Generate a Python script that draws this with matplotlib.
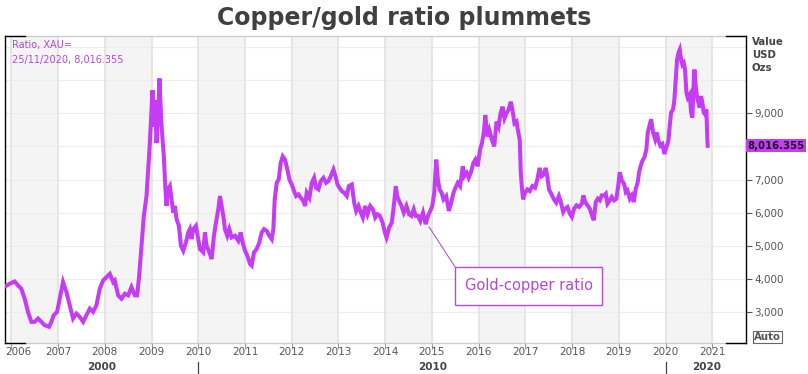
import matplotlib
matplotlib.use("Agg")
import matplotlib.pyplot as plt
from matplotlib.patches import Rectangle
from matplotlib.lines import Line2D

# ---- data (decimal year, ratio value) ----
years = [
 2005.879, 2005.964, 2006.071, 2006.143, 2006.214, 2006.286, 2006.357, 2006.429, 2006.5, 2006.571,
 2006.643, 2006.714, 2006.807, 2006.857, 2006.907, 2006.979, 2007.036, 2007.107, 2007.179, 2007.25,
 2007.321, 2007.393, 2007.464, 2007.536, 2007.607, 2007.679, 2007.75, 2007.821, 2007.893, 2007.964,
 2008.036, 2008.107, 2008.179, 2008.214, 2008.286, 2008.357, 2008.429, 2008.5, 2008.571, 2008.643,
 2008.693, 2008.736, 2008.786, 2008.836, 2008.893, 2008.929, 2008.964, 2009.0, 2009.021, 2009.05,
 2009.079, 2009.107, 2009.15, 2009.171, 2009.207, 2009.236, 2009.264, 2009.293, 2009.321, 2009.35,
 2009.393, 2009.429, 2009.464, 2009.5, 2009.536, 2009.586, 2009.629, 2009.679, 2009.736, 2009.786,
 2009.821, 2009.857, 2009.893, 2009.95, 2010.0, 2010.036, 2010.107, 2010.143, 2010.179, 2010.236,
 2010.286, 2010.336, 2010.379, 2010.429, 2010.464, 2010.5, 2010.536, 2010.571, 2010.621, 2010.664,
 2010.714, 2010.786, 2010.857, 2010.907, 2010.95, 2011.0, 2011.05, 2011.107, 2011.143, 2011.193,
 2011.25, 2011.307, 2011.357, 2011.407, 2011.464, 2011.521, 2011.571, 2011.607, 2011.636, 2011.679,
 2011.721, 2011.764, 2011.807, 2011.857, 2011.907, 2011.95, 2012.0, 2012.05, 2012.093, 2012.143,
 2012.193, 2012.25, 2012.286, 2012.321, 2012.379, 2012.429, 2012.479, 2012.521, 2012.571, 2012.621,
 2012.679, 2012.736, 2012.786, 2012.836, 2012.893, 2012.936, 2012.979, 2013.021, 2013.071, 2013.121,
 2013.179, 2013.221, 2013.286, 2013.336, 2013.379, 2013.429, 2013.479, 2013.521, 2013.571, 2013.621,
 2013.679, 2013.736, 2013.786, 2013.836, 2013.887, 2013.943, 2013.993, 2014.028, 2014.085, 2014.142,
 2014.184, 2014.227, 2014.255, 2014.298, 2014.348, 2014.397, 2014.454, 2014.511, 2014.56, 2014.61,
 2014.652, 2014.702, 2014.752, 2014.809, 2014.865, 2014.915, 2014.965, 2015.007, 2015.05, 2015.092,
 2015.128, 2015.163, 2015.206, 2015.248, 2015.305, 2015.362, 2015.411, 2015.461, 2015.504, 2015.553,
 2015.603, 2015.66, 2015.695, 2015.745, 2015.787, 2015.83, 2015.887, 2015.929, 2015.979, 2016.028,
 2016.071, 2016.113, 2016.142, 2016.184, 2016.227, 2016.284, 2016.333, 2016.383, 2016.426, 2016.468,
 2016.511, 2016.553, 2016.596, 2016.638, 2016.688, 2016.723, 2016.766, 2016.809, 2016.851, 2016.879,
 2016.901, 2016.922, 2016.95, 2016.993, 2017.043, 2017.092, 2017.149, 2017.206, 2017.255, 2017.305,
 2017.348, 2017.397, 2017.433, 2017.468, 2017.504, 2017.56, 2017.61, 2017.66, 2017.716, 2017.758,
 2017.808, 2017.85, 2017.9, 2017.95, 2017.993, 2018.043, 2018.093, 2018.15, 2018.207, 2018.242,
 2018.278, 2018.328, 2018.378, 2018.435, 2018.463, 2018.506, 2018.549, 2018.592, 2018.634, 2018.684,
 2018.72, 2018.756, 2018.805, 2018.848, 2018.898, 2018.948, 2018.991, 2019.019, 2019.062, 2019.112,
 2019.148, 2019.183, 2019.233, 2019.276, 2019.319, 2019.361, 2019.404, 2019.433, 2019.468, 2019.504,
 2019.547, 2019.589, 2019.618, 2019.661, 2019.689, 2019.732, 2019.775, 2019.81, 2019.846, 2019.889,
 2019.932, 2019.974, 2020.017, 2020.06, 2020.088, 2020.117, 2020.16, 2020.188, 2020.217, 2020.245,
 2020.274, 2020.302, 2020.331, 2020.359, 2020.388, 2020.416, 2020.445, 2020.473, 2020.516, 2020.545,
 2020.573, 2020.594, 2020.616, 2020.644, 2020.673, 2020.701, 2020.73, 2020.758, 2020.787, 2020.815,
 2020.844, 2020.872, 2020.88, 2020.89, 2020.9,
]
ratio = [
 3780, 3850, 3920, 3800, 3700, 3400, 3000, 2700, 2700, 2800,
 2700, 2600, 2550, 2700, 2900, 3000, 3400, 3900, 3600, 3200,
 2800, 2950, 2850, 2700, 2900, 3100, 3000, 3200, 3700, 3950,
 4050, 4150, 3900, 3950, 3500, 3400, 3550, 3500, 3750, 3500,
 3500, 4100, 5000, 5900, 6500, 7300, 8100, 9100, 9700, 8600,
 9400, 8100, 9200, 10050, 8800, 8200, 7700, 6800, 6200, 6700,
 6800, 6400, 6000, 6200, 5800, 5600, 5000, 4850, 5100, 5400,
 5500, 5200, 5500, 5600, 5200, 4900, 4800, 5400, 5000, 4800,
 4600, 5300, 5700, 6100, 6500, 6200, 5900, 5500, 5300, 5500,
 5250, 5300, 5150, 5400, 5100, 4850, 4700, 4450, 4400, 4800,
 4900, 5100, 5400, 5500, 5450, 5300, 5200, 5500, 6400, 6900,
 7000, 7500, 7700, 7600, 7300, 7000, 6850, 6650, 6500, 6550,
 6450, 6350, 6200, 6600, 6450, 6900, 7050, 6750, 6700, 6950,
 7050, 6900, 6950, 7100, 7300, 7100, 6850, 6750, 6650, 6600,
 6500, 6800, 6850, 6300, 6050, 6200, 6000, 5850, 6200, 5950,
 6200, 6100, 5850, 5950, 5900, 5700, 5400, 5250, 5550, 5700,
 6200, 6800, 6500, 6350, 6200, 6000, 6200, 5950, 5900, 6100,
 5900, 5900, 5750, 6000, 5650, 5900, 6050, 6200, 6600, 7600,
 7000, 6700, 6600, 6400, 6500, 6050, 6300, 6600, 6750, 6900,
 6800, 7400, 7100, 7200, 7050, 7200, 7500, 7600, 7400, 7900,
 8100, 8450, 8950, 8300, 8500, 8200, 8000, 8750, 8600, 9000,
 9200, 8850, 9000, 9100, 9350, 9100, 8700, 8750, 8400, 8200,
 7200, 6800, 6400, 6600, 6700, 6650, 6800, 6750, 7000, 7350,
 7100, 7150, 7350, 7100, 6700, 6550, 6400, 6300, 6500, 6320,
 6020, 6120, 6170, 5970, 5870, 6120, 6220, 6170, 6270, 6520,
 6320, 6220, 6120, 5870, 5770, 6320, 6420, 6370, 6520, 6520,
 6570, 6270, 6370, 6470, 6370, 6420, 6870, 7220, 6970, 6870,
 6620, 6670, 6420, 6520, 6320, 6720, 6920, 7220, 7420, 7570,
 7670, 7920, 8420, 8670, 8820, 8420, 8220, 8420, 8170, 8020,
 8070, 7770, 7970, 8170, 8620, 9020, 9120, 9420, 10020, 10620,
 10820, 10920, 10620, 10470, 10520, 10320, 9620, 9470, 9570, 9020,
 8870, 9720, 10320, 9820, 9470, 9320, 9170, 9520, 9320, 9020,
 8970, 9120, 8720, 8320, 8016.355,
]
year_ticks = list(range(2006, 2022))
value_ticks = [3000, 4000, 5000, 6000, 7000, 9000]
grid_values = list(range(3000, 12000, 1000))
decade_labels = ["2000", "2010", "2020"]
last_value = 8016.355
last_date = "25/11/2020"

PURPLE = "#c63cf5"
TXT_PURPLE = "#b546dc"
GREY = "#555555"

W, H = 808, 374
fig = plt.figure(figsize=(W / 100, H / 100), dpi=100)
L, R, T, B = 5, 746, 36, 343
ax = fig.add_axes([L / W, 1 - B / H, (R - L) / W, (B - T) / H])
ax.set_xlim(2005.865, 2021.72)
ax.set_ylim(2061, 11335)

# alternate year shading and year lines
for y in year_ticks[:-1]:
    if y % 2 == 0:
        ax.axvspan(y, y + 1, color="#f4f4f4", lw=0, zorder=0)
for y in year_ticks:
    ax.axvline(y, color="#e4e4e4", lw=1.3, zorder=0.5)
for v in grid_values:
    ax.axhline(v, color="#ececec", lw=0.8, zorder=0.4)

ax.plot(years, ratio, color=PURPLE, lw=2.9, solid_joinstyle="miter", zorder=3)

# spines
for s in ["left", "right"]:
    ax.spines[s].set_color("black")
    ax.spines[s].set_linewidth(1.0)
for s in ["top", "bottom"]:
    ax.spines[s].set_color("#cccccc")
    ax.spines[s].set_linewidth(1.0)
for (x0, x1) in [(0, 0.027), (0.973, 1.0)]:
    ax.add_line(Line2D([x0, x1], [0, 0], transform=ax.transAxes, color="black", lw=1.0, clip_on=False, zorder=5))
    ax.add_line(Line2D([x0, x1], [1, 1], transform=ax.transAxes, color="black", lw=1.0, clip_on=False, zorder=5))

# y axis on right
ax.yaxis.tick_right()
ax.set_yticks(value_ticks)
ax.set_yticklabels([f"{v:,}" for v in value_ticks])
ax.tick_params(axis="y", which="both", length=4, width=0.8, color=GREY, labelcolor=GREY,
               labelsize=7.5, pad=2, left=False)
ax.tick_params(axis="x", length=4, width=0.8, color="#999999", labelbottom=False)
ax.set_xticks(year_ticks)

# year labels
for y in year_ticks:
    if y == 2006:
        ax.text(2005.865, -0.028, str(y), transform=ax.get_xaxis_transform(), ha="left", va="center",
                fontsize=7.5, color=GREY)
    else:
        ax.text(y, -0.028, str(y), transform=ax.get_xaxis_transform(), ha="center", va="center",
                fontsize=7.5, color=GREY)
for lab, xpos in zip(decade_labels, [2007.94, 2015.02, 2020.88]):
    ax.text(xpos, -0.078, lab, transform=ax.get_xaxis_transform(), ha="center", va="center",
            fontsize=7.5, color="#444444", fontweight="bold")
for xsep in [2010, 2020]:
    ax.add_line(Line2D([xsep, xsep], [-0.062, -0.1], transform=ax.get_xaxis_transform(),
                       color="#444444", lw=0.9, clip_on=False))

# title
fig.text(0.5, 1 - 18 / H, "Copper/gold ratio plummets", ha="center", va="center",
         fontsize=17, fontweight="bold", color="#404040")

# top-left legend text
fig.text(12 / W, 1 - 45 / H, "Ratio, XAU=", ha="left", va="center", fontsize=7, color=TXT_PURPLE)
fig.text(12 / W, 1 - 60 / H, f"{last_date}, {last_value:,.3f}", ha="left", va="center",
         fontsize=7, color=TXT_PURPLE)

# right header
fig.text(752 / W, 1 - 55 / H, "Value\nUSD\nOzs", ha="left", va="center", fontsize=7.3,
         fontweight="bold", color="#444444", linespacing=1.35)

# last value box
ax.text(1.002, last_value, f"{last_value:,.3f}", transform=ax.get_yaxis_transform(),
        ha="left", va="center", fontsize=7.3, fontweight="bold", color="#1a1a1a",
        bbox=dict(boxstyle="square,pad=0.15", fc=PURPLE, ec="none"), clip_on=False)

# Auto box
fig.text(754 / W, 1 - 337 / H, "Auto", ha="left", va="center", fontsize=7.3, fontweight="bold",
         color="#555555", bbox=dict(boxstyle="square,pad=0.12", fc="white", ec="#666666", lw=0.8))

# annotation box
bx0, bx1, by0, by1 = 2015.495, 2018.641, 3209, 4357
ax.add_patch(Rectangle((bx0, by0), bx1 - bx0, by1 - by0, fc="white", ec="#b54ad8", lw=1.0, zorder=6))
ax.text((bx0 + bx1) / 2, (by0 + by1) / 2, "Gold-copper ratio", ha="center", va="center",
        fontsize=10.5, color=TXT_PURPLE, zorder=7)
ax.add_line(Line2D([bx0, 2014.94], [by1, 5565], color="#9b4fb5", lw=0.7, zorder=5))

fig.savefig("out.png", dpi=100)
